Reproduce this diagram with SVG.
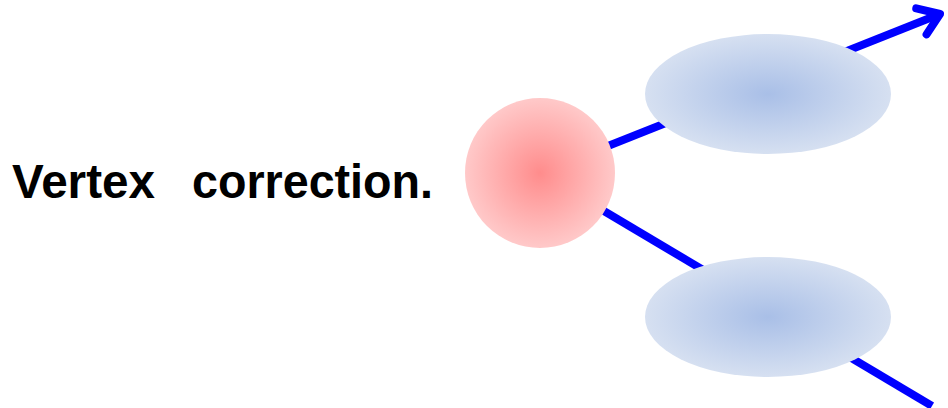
<svg xmlns="http://www.w3.org/2000/svg" width="948" height="408" viewBox="0 0 948 408">
<style>
.edge{stroke:#0000ff;stroke-width:8;fill:none;stroke-linecap:butt}
.lbl{font-family:"Liberation Sans",Arial,sans-serif;font-weight:bold;font-size:48px;fill:#000}
</style>
<defs>
<radialGradient id="gRed" cx="0.5" cy="0.5" r="0.5">
<stop offset="0" stop-color="#ff8c8c"/>
<stop offset="1" stop-color="#ffc9c9"/>
</radialGradient>
<radialGradient id="gBlue" cx="0.5" cy="0.5" r="0.5">
<stop offset="0" stop-color="#a9bfe7"/>
<stop offset="1" stop-color="#d6e0f1"/>
</radialGradient>
<marker id="arr" markerUnits="userSpaceOnUse" markerWidth="40" markerHeight="40" refX="28" refY="20" orient="auto">
<path d="M8,6 L28,20 L8,34" fill="none" stroke="#0000ff" stroke-width="8" stroke-linecap="round" stroke-linejoin="round"/>
</marker>
</defs>
<g id="connectors">
<line class="edge" x1="540" y1="173" x2="940" y2="14" marker-end="url(#arr)"/>
<line class="edge" x1="540" y1="173" x2="932" y2="406"/>
</g>
<g id="label">
<text class="lbl" x="12" y="198" textLength="143" lengthAdjust="spacingAndGlyphs">Vertex</text>
<text class="lbl" x="192" y="198" textLength="241" lengthAdjust="spacingAndGlyphs">correction.</text>
</g>
<g id="vertex">
<circle cx="540" cy="173" r="75" fill="url(#gRed)"/>
</g>
<g id="upper">
<ellipse cx="768" cy="94" rx="123" ry="60" fill="url(#gBlue)"/>
</g>
<g id="lower">
<ellipse cx="768" cy="317" rx="123" ry="60" fill="url(#gBlue)"/>
</g>
</svg>
